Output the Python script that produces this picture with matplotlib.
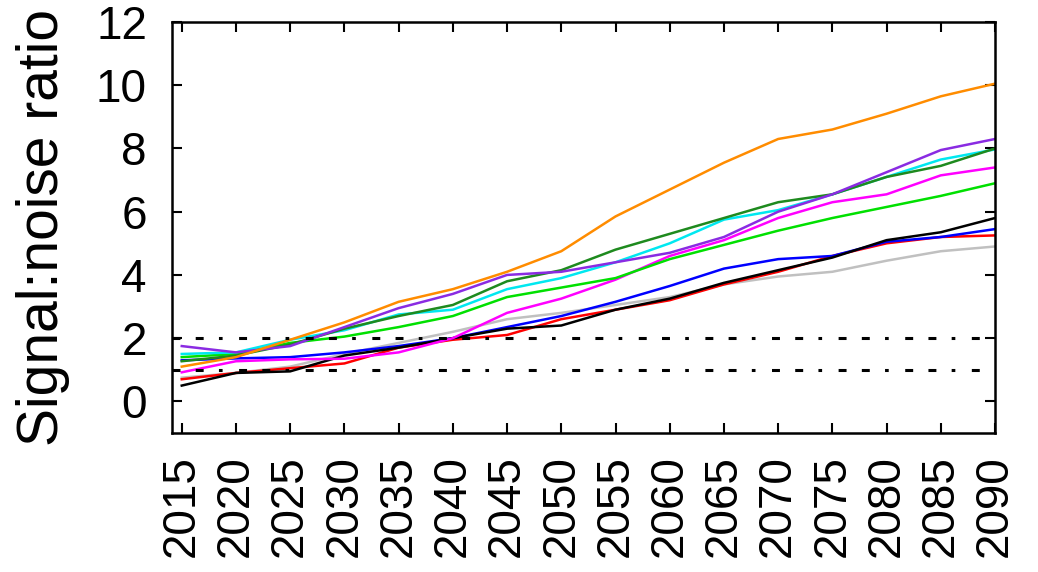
import numpy as np
from matplotlib import pyplot as plt

plt.rcParams['font.family'] = ['Liberation Sans', 'DejaVu Sans']

# Years sampled every 5 years
years = np.arange(2015, 2091, 5)

# Signal:noise ratio, one list per run
orange = [1.1, 1.4, 1.95, 2.5, 3.15, 3.55, 4.1, 4.75, 5.85, 6.7, 7.55, 8.3, 8.6, 9.1, 9.65, 10.05]
purple = [1.75, 1.55, 1.75, 2.35, 2.95, 3.4, 4.0, 4.1, 4.4, 4.7, 5.2, 6.0, 6.55, 7.25, 7.95, 8.3]
darkgreen = [1.27, 1.45, 1.8, 2.3, 2.7, 3.05, 3.8, 4.15, 4.8, 5.3, 5.8, 6.3, 6.55, 7.1, 7.45, 8.0]
cyan = [1.5, 1.55, 1.95, 2.25, 2.75, 2.9, 3.55, 3.9, 4.4, 5.0, 5.75, 6.05, 6.55, 7.1, 7.65, 7.97]
lime = [1.4, 1.5, 1.85, 2.05, 2.35, 2.7, 3.3, 3.6, 3.9, 4.5, 4.95, 5.4, 5.8, 6.15, 6.5, 6.9]
magenta = [0.92, 1.27, 1.33, 1.35, 1.55, 2.0, 2.8, 3.25, 3.85, 4.6, 5.1, 5.8, 6.3, 6.55, 7.15, 7.4]
blue = [1.3, 1.36, 1.4, 1.55, 1.75, 2.0, 2.35, 2.7, 3.15, 3.65, 4.2, 4.5, 4.6, 5.05, 5.2, 5.45]
black = [0.5, 0.9, 0.95, 1.45, 1.7, 2.0, 2.3, 2.4, 2.9, 3.25, 3.75, 4.15, 4.55, 5.1, 5.35, 5.8]
red = [0.7, 0.9, 1.05, 1.2, 1.7, 1.95, 2.1, 2.6, 2.9, 3.2, 3.7, 4.1, 4.6, 5.0, 5.2, 5.25]
gray = [0.75, 0.9, 1.1, 1.5, 1.85, 2.2, 2.6, 2.8, 3.05, 3.3, 3.7, 3.95, 4.1, 4.45, 4.75, 4.9]

thresholds = [1, 2]

fig = plt.figure(figsize=(10.38, 5.72), dpi=100)
ax = fig.add_axes([0.1657, 0.243, 0.7929, 0.7185])

# draw order: back to front
ax.plot(years, gray, color='#c0c0c0', lw=1.8)
ax.plot(years, red, color='#ff0000', lw=1.8)
ax.plot(years, blue, color='#0000ff', lw=1.8)
ax.plot(years, black, color='black', lw=1.8)
ax.plot(years, magenta, color='#ff00ff', lw=1.8)
ax.plot(years, lime, color='#00e000', lw=1.8)
ax.plot(years, cyan, color='#00e8f0', lw=1.8)
ax.plot(years, darkgreen, color='#1e8a1e', lw=1.8)
ax.plot(years, purple, color='#8a2be2', lw=1.8)
ax.plot(years, orange, color='#ff8c00', lw=1.8)

# threshold lines
for t in thresholds:
    line = ax.axhline(t, color='black', lw=2.2)
    line.set_dashes([2.6, 5.0, 2.6, 5.0, 1.2, 5.4])

ax.set_xlim(2014.1, 2090)
ax.set_ylim(-1, 12)
ax.set_xticks(years)
ax.set_xticklabels([str(y) for y in years], rotation=90)
ax.set_yticks(range(0, 13, 2))

ax.tick_params(direction='in', length=7, width=1.5, top=True, right=True,
               labelsize=33, colors='black')
ax.tick_params(axis='y', pad=18)
ax.tick_params(axis='x', pad=16)
for s in ax.spines.values():
    s.set_linewidth(1.8)

ax.set_ylabel('Signal:noise ratio', fontsize=41)
ax.yaxis.set_label_coords(-0.124, 0.5)

fig.savefig('out.png', dpi=100)
